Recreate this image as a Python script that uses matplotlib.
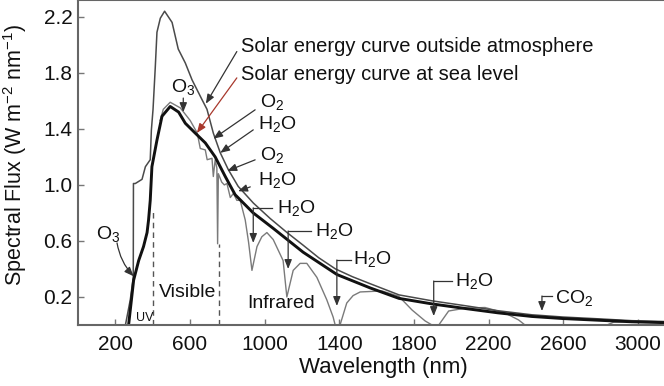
import matplotlib
matplotlib.use('Agg')
import matplotlib.pyplot as plt
import numpy as np

plt.rcParams['font.family'] = ['Liberation Sans', 'DejaVu Sans']
plt.rcParams['mathtext.fontset'] = 'custom'
plt.rcParams['mathtext.rm'] = 'Liberation Sans'
plt.rcParams['mathtext.it'] = 'Liberation Sans'
plt.rcParams['mathtext.default'] = 'regular'

# --- data (wavelength nm, flux W m-2 nm-1) ---
wl_outside = [254, 280, 296, 297, 307, 343, 361, 387, 393, 402, 414, 423, 441, 464,
              504, 537, 575, 611, 664, 691, 725, 762, 805, 858, 940, 1030, 1120,
              1206, 1290, 1380, 1470, 1565, 1720, 1900, 2074, 2250, 2432, 2600,
              2791, 2968, 3140]
flux_outside = [0, 0.18, 0.34, 1.01, 1.01, 1.04, 1.13, 1.18, 1.39, 1.54, 1.84, 2.09,
                2.19, 2.24, 2.16, 1.97, 1.87, 1.75, 1.61, 1.54, 1.37, 1.23, 1.11,
                0.99, 0.87, 0.76, 0.66, 0.57, 0.48, 0.40, 0.345, 0.295, 0.215, 0.172,
                0.138, 0.102, 0.073, 0.057, 0.044, 0.031, 0.025]

wl_thick = [271, 298, 325, 351, 370, 378, 387, 396, 423, 450, 494, 539, 575, 628,
            682, 735, 789, 842, 939, 1046, 1206, 1388, 1565, 1720, 1900, 2074,
            2250, 2432, 2600, 2791, 2968, 3140]
flux_thick = [0, 0.32, 0.46, 0.56, 0.66, 0.75, 0.89, 1.13, 1.32, 1.49, 1.56, 1.52,
              1.44, 1.37, 1.30, 1.20, 1.06, 0.93, 0.80, 0.69, 0.52, 0.36, 0.265,
              0.19, 0.15, 0.118, 0.087, 0.061, 0.046, 0.034, 0.023, 0.017]

wl_sea = [440, 457, 494, 548, 601, 639, 655, 682, 692, 718, 725, 735, 744, 748, 752,
          770, 784, 798, 816, 833, 851, 869, 896, 914, 932, 959, 985, 1012, 1046,
          1099, 1119, 1153, 1190, 1226, 1280, 1333, 1367, 1378, 1404, 1440, 1474,
          1512, 1629, 1719, 1790, 1860, 1897, 1933, 1986, 2074, 2181, 2288, 2361,
          2395, 2834, 2870, 2973, 3140]
flux_sea = [1.46, 1.54, 1.59, 1.55, 1.46, 1.37, 1.26, 1.25, 1.18, 1.19, 1.06, 1.18,
            1.12, 0.58, 1.08, 1.02, 1.0, 1.01, 0.91, 0.94, 0.89, 0.89, 0.75, 0.59,
            0.39, 0.56, 0.63, 0.66, 0.61, 0.46, 0.20, 0.39, 0.44, 0.44, 0.34, 0.18,
            0.057, 0, 0, 0.157, 0.21, 0.236, 0.243, 0.205, 0.107, 0.029, 0, 0, 0.10,
            0.12, 0.125, 0.086, 0.036, 0, 0, 0.02, 0.026, 0.018]

band_edges = [400, 758]
band_tops = [0.82, 0.58]

xticks = [200, 600, 1000, 1400, 1800, 2200, 2600, 3000]
yticks = [0.2, 0.6, 1.0, 1.4, 1.8, 2.2]

# slanted arrows: text, text pos, arrow start, arrow tip
slanted = [
    (r'O$_2$', (976, 1.593), (949, 1.536), (725, 1.330)),
    (r'H$_2$O', (966, 1.436), (939, 1.393), (762, 1.229)),
    (r'O$_2$', (976, 1.214), (949, 1.179), (800, 1.100)),
    (r'H$_2$O', (966, 1.036), (923, 0.986), (858, 0.955)),
]
# bracket arrows: text, text pos, bracket start x, corner x, y, tip y
brackets = [
    (r'H$_2$O', (1066, 0.836), 1040, 939, 0.836, 0.586),
    (r'H$_2$O', (1271, 0.671), 1249, 1126, 0.671, 0.40),
    (r'H$_2$O', (1474, 0.471), 1463, 1387, 0.464, 0.136),
    (r'H$_2$O', (2020, 0.314), 2004, 1906, 0.314, 0.064),
    (r'CO$_2$', (2555, 0.193), 2539, 2486, 0.207, 0.10),
]

fig = plt.figure(figsize=(6.64, 3.86), dpi=100)
ax = fig.add_axes([0.1175, 0.158, 0.8825, 0.842])

ax.plot(wl_sea, flux_sea, color='#7a7a7a', lw=1.0)
ax.plot(wl_outside, flux_outside, color='#4a4a4a', lw=1.1)
ax.plot(wl_thick, flux_thick, color='#111111', lw=2.1)
for xe, top in zip(band_edges, band_tops):
    ax.plot([xe, xe], [0, top], color='#555555', lw=1.0, ls=(0, (4, 3)))

ax.set_xlim(0, 3140)
ax.set_ylim(0, 2.32)
ax.set_xticks(xticks)
ax.set_yticks(yticks)
ax.tick_params(direction='in', length=4, width=1, colors='#777777',
               labelcolor='#111111', labelsize=15)
ax.tick_params(axis='x', pad=7)
ax.tick_params(axis='y', pad=4)
for s in ['left', 'bottom', 'top']:
    ax.spines[s].set_color('#666666')
    ax.spines[s].set_linewidth(1.5)
ax.spines['right'].set_visible(False)

fig.text(383 / 664, 1 - 367 / 386, 'Wavelength (nm)', ha='center', va='center',
         fontsize=16, color='#111111')
fig.text(15 / 664, 1 - 155 / 386, r'Spectral Flux (W m$^{-2}$ nm$^{-1}$)', rotation=90,
         ha='center', va='center', fontsize=15.5, color='#111111')

arrow_kw = dict(arrowstyle='-|>,head_length=0.55,head_width=0.22', color='#333333',
                lw=0.9, shrinkA=0, shrinkB=0)

ax.text(875, 1.986, 'Solar energy curve outside atmosphere', fontsize=14.5,
        va='center', color='#111111')
ax.annotate('', xy=(685, 1.58), xytext=(851, 1.952), arrowprops=arrow_kw)
ax.text(875, 1.786, 'Solar energy curve at sea level', fontsize=14.5,
        va='center', color='#111111')
red_kw = dict(arrow_kw, color='#a8382c')
ax.annotate('', xy=(637, 1.371), xytext=(851, 1.764), arrowprops=red_kw)

ax.text(564, 1.70, r'O$_3$', fontsize=14, ha='center', va='center', color='#111111')
ax.annotate('', xy=(564, 1.52), xytext=(564, 1.62), arrowprops=arrow_kw)

for label, tpos, start, tip in slanted:
    ax.text(tpos[0], tpos[1], label, fontsize=14, va='center', color='#111111')
    ax.annotate('', xy=tip, xytext=start, arrowprops=arrow_kw)

for label, tpos, x0, xc, yb, ytip in brackets:
    ax.text(tpos[0], tpos[1], label, fontsize=14, va='center', color='#111111')
    ax.plot([x0, xc], [yb, yb], color='#333333', lw=0.9)
    ax.annotate('', xy=(xc, ytip), xytext=(xc, yb), arrowprops=arrow_kw)

ax.text(162, 0.65, r'O$_3$', fontsize=14, ha='center', va='center', color='#111111')
ax.annotate('', xy=(298, 0.348), xytext=(209, 0.586),
            arrowprops=dict(arrow_kw, connectionstyle='arc3,rad=0.15'))

ax.text(585, 0.229, 'Visible', fontsize=14, ha='center', va='center', color='#111111')
ax.text(1089, 0.157, 'Infrared', fontsize=14, ha='center', va='center', color='#111111')
ax.text(360, 0.05, 'UV', fontsize=9, ha='center', va='center', color='#111111')

fig.savefig('out.png', dpi=100)
